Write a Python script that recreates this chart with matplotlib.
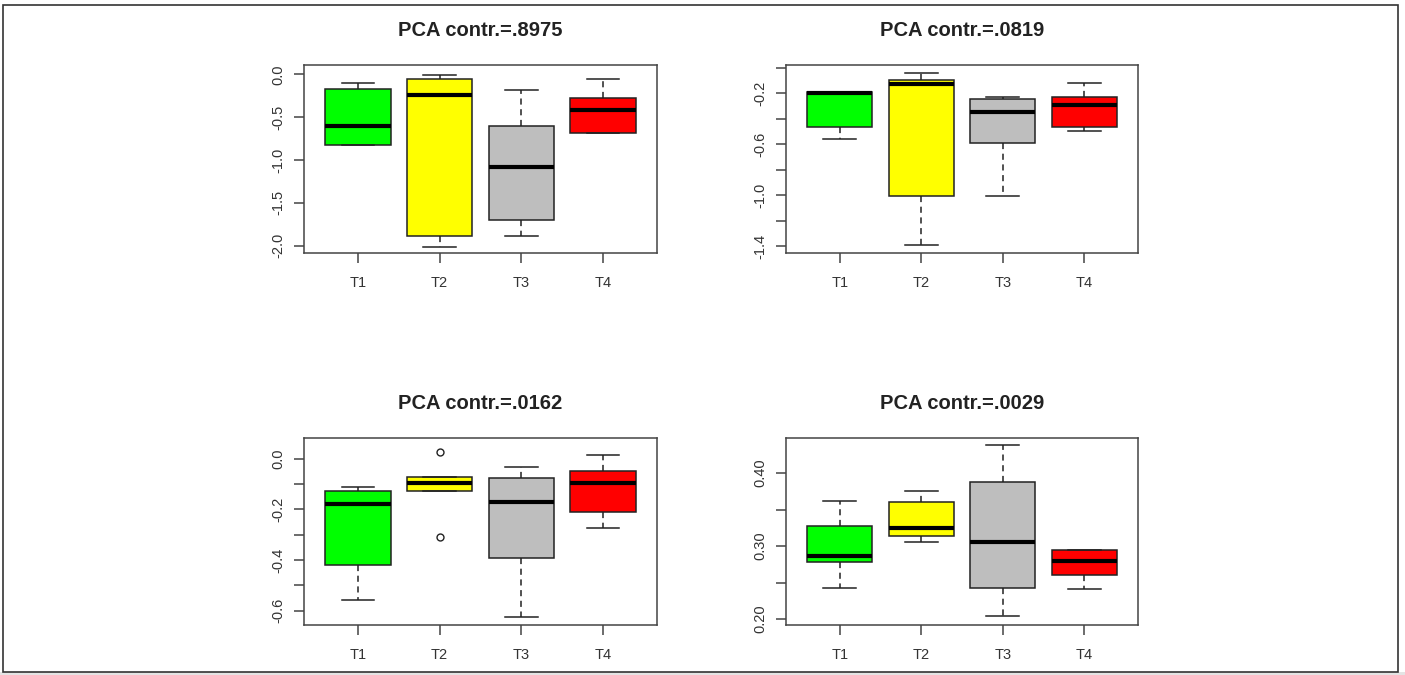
import matplotlib
matplotlib.use('Agg')
import matplotlib.pyplot as plt
from matplotlib.patches import Rectangle

plt.rcParams['font.family'] = ['Liberation Sans', 'DejaVu Sans']

groups = ['T1', 'T2', 'T3', 'T4']
box_colors = ['#00ff00', '#ffff00', '#bebebe', '#ff0000']
titles = ['PCA contr.=.8975', 'PCA contr.=.0819', 'PCA contr.=.0162', 'PCA contr.=.0029']

# five-number summaries
p1_low = [-0.82, -2.01, -1.89, -0.69]
p1_q1 = [-0.82, -1.89, -1.70, -0.69]
p1_med = [-0.60, -0.24, -1.085, -0.42]
p1_q3 = [-0.17, -0.05, -0.60, -0.28]
p1_high = [-0.10, -0.01, -0.18, -0.06]
p1_out = [[], [], [], []]

p2_low = [-0.56, -1.39, -1.01, -0.494]
p2_q1 = [-0.468, -1.006, -0.588, -0.463]
p2_med = [-0.20, -0.128, -0.345, -0.293]
p2_q3 = [-0.188, -0.096, -0.248, -0.232]
p2_high = [-0.188, -0.04, -0.227, -0.117]
p2_out = [[], [], [], []]

p3_low = [-0.557, -0.129, -0.626, -0.272]
p3_q1 = [-0.419, -0.129, -0.39, -0.212]
p3_med = [-0.178, -0.096, -0.169, -0.096]
p3_q3 = [-0.129, -0.072, -0.076, -0.05]
p3_high = [-0.112, -0.072, -0.033, 0.013]
p3_out = [[], [0.026, -0.307], [], []]

p4_low = [0.242, 0.305, 0.204, 0.241]
p4_q1 = [0.278, 0.314, 0.242, 0.260]
p4_med = [0.2865, 0.3245, 0.306, 0.279]
p4_q3 = [0.327, 0.360, 0.388, 0.294]
p4_high = [0.362, 0.376, 0.439, 0.294]
p4_out = [[], [], [], []]

p1_ticks = [0.0, -0.5, -1.0, -1.5, -2.0]
p1_labels = ['0.0', '-0.5', '-1.0', '-1.5', '-2.0']
p2_ticks = [0.0, -0.2, -0.4, -0.6, -0.8, -1.0, -1.2, -1.4]
p2_labels = ['', '-0.2', '', '-0.6', '', '-1.0', '', '-1.4']
p3_ticks = [0.0, -0.1, -0.2, -0.3, -0.4, -0.5, -0.6]
p3_labels = ['0.0', '', '-0.2', '', '-0.4', '', '-0.6']
p4_ticks = [0.40, 0.35, 0.30, 0.25, 0.20]
p4_labels = ['0.40', '', '0.30', '', '0.20']

panels = [
    (p1_low, p1_q1, p1_med, p1_q3, p1_high, p1_out, p1_ticks, p1_labels, (-2.085, 0.108)),
    (p2_low, p2_q1, p2_med, p2_q3, p2_high, p2_out, p2_ticks, p2_labels, (-1.453, 0.021)),
    (p3_low, p3_q1, p3_med, p3_q3, p3_high, p3_out, p3_ticks, p3_labels, (-0.656, 0.082)),
    (p4_low, p4_q1, p4_med, p4_q3, p4_high, p4_out, p4_ticks, p4_labels, (0.192, 0.448)),
]

W, H = 1405, 675
fig = plt.figure(figsize=(W / 100, H / 100), dpi=100)

# axes boxes in pixels: left, top, right, bottom
boxes = [(304, 65, 657, 253), (786, 65, 1138, 253),
         (304, 438, 657, 625), (786, 438, 1138, 625)]

txt = '#333333'
edge = '#222222'

for i, (lo, q1, med, q3, hi, out, yt, yl, ylim) in enumerate(panels):
    l, t, r, b = boxes[i]
    ax = fig.add_axes([l / W, 1 - b / H, (r - l) / W, (b - t) / H])
    stats = [dict(whislo=lo[k], q1=q1[k], med=med[k], q3=q3[k], whishi=hi[k],
                  fliers=out[k], label=groups[k]) for k in range(4)]
    bp = ax.bxp(stats, positions=[1, 2, 3, 4], widths=0.8, patch_artist=True,
                boxprops=dict(edgecolor=edge, linewidth=1.1),
                medianprops=dict(color='black', linewidth=3, solid_capstyle='butt'),
                whiskerprops=dict(color=edge, linewidth=1.1, linestyle=(0, (4, 3))),
                capprops=dict(color=edge, linewidth=1.1),
                capwidths=0.4,
                flierprops=dict(marker='o', markerfacecolor='none',
                                markeredgecolor=edge, markersize=5, markeredgewidth=1))
    for patch, c in zip(bp['boxes'], box_colors):
        patch.set_facecolor(c)
    ax.set_xlim(0.34, 4.66)
    ax.set_ylim(*ylim)
    ax.set_yticks(yt)
    ax.set_yticklabels(yl, rotation=90, va='center', ha='right')
    ax.set_xticks([1, 2, 3, 4])
    ax.set_xticklabels(groups)
    ax.tick_params(axis='both', direction='out', length=7.5, width=1.1,
                   color='#444444', labelcolor=txt, labelsize=10.5)
    ax.tick_params(axis='x', pad=9)
    ax.tick_params(axis='y', pad=6)
    for s in ax.spines.values():
        s.set_color('#444444')
        s.set_linewidth(1.1)
    ax.set_title(titles[i], fontsize=14.5, fontweight='bold', color='#222222', pad=21)

# outer frame of the picture
fig.patches.append(Rectangle((0, 0), 1, 3 / H, transform=fig.transFigure,
                             facecolor='#e4e4e4', edgecolor='none'))
fig.patches.append(Rectangle((3 / W, 3 / H), 1395 / W, 667 / H, transform=fig.transFigure,
                             facecolor='none', edgecolor='#333333', linewidth=1.2))

fig.savefig('out.png', dpi=100)
